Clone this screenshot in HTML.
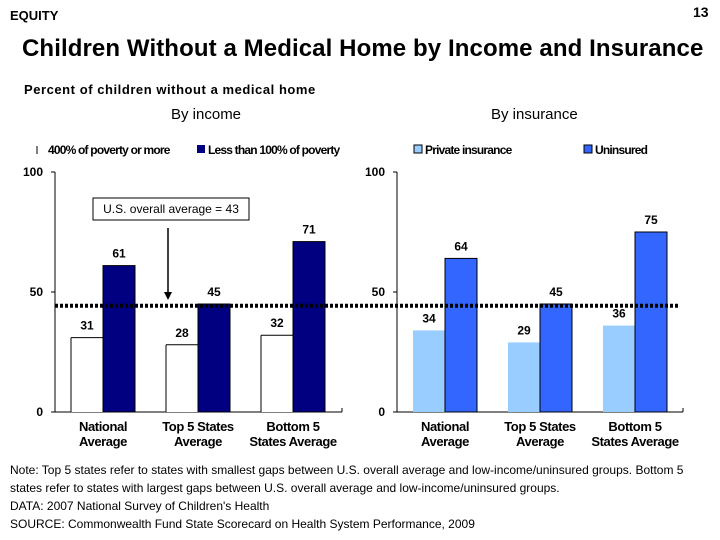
<!DOCTYPE html>
<html><head><meta charset="utf-8"><style>
body{margin:0;width:720px;height:540px;background:#fff;font-family:"Liberation Sans",Arial,sans-serif;overflow:hidden;position:relative}
.t{position:absolute;white-space:nowrap}
</style></head><body>
<div class="t" style="left:10px;top:8px;font-size:13px;font-weight:bold">EQUITY</div>
<div class="t" style="left:693px;top:4px;font-size:14px;font-weight:bold">13</div>
<div class="t" style="left:22px;top:35px;font-size:24px;font-weight:bold;letter-spacing:0.1px">Children Without a Medical Home by Income and Insurance</div>
<div class="t" style="left:24px;top:82px;font-size:13px;font-weight:bold;letter-spacing:0.55px">Percent of children without a medical home</div>
<div class="t" style="left:171px;top:106px;font-size:15px">By income</div>
<div class="t" style="left:491px;top:106px;font-size:15px">By insurance</div>
<svg id="c" width="720" height="540" style="position:absolute;left:0;top:0"></svg>
<div class="t" style="left:10px;top:461px;font-size:12px;line-height:18px">Note: Top 5 states refer to states with smallest gaps between U.S. overall average and low-income/uninsured groups. Bottom 5<br>states refer to states with largest gaps between U.S. overall average and low-income/uninsured groups.<br>DATA: 2007 National Survey of Children's Health<br>SOURCE: Commonwealth Fund State Scorecard on Health System Performance, 2009</div>
<script>
const categories=[["National","Average"],["Top 5 States","Average"],["Bottom 5","States Average"]];
const incomeHigh=[31,28,32];
const incomeLow=[61,45,71];
const insPrivate=[34,29,36];
const insUninsured=[64,45,75];
const ticks=[0,50,100];
const overallAvg=43;
const NS="http://www.w3.org/2000/svg";
const svg=document.getElementById('c');
function y(v){return 412-v*2.4;}
function mk(tag,a,txt){const e=document.createElementNS(NS,tag);for(const k in a)e.setAttribute(k,a[k]);if(txt!==undefined)e.textContent=txt;svg.appendChild(e);return e;}
function panel(ax,xEnd,s1,s2,c1,c2,prefix){
  let e=mk('line',{x1:ax,y1:172,x2:ax,y2:412,stroke:'#000'});
  
  e=mk('line',{x1:ax,y1:412,x2:xEnd,y2:412,stroke:'#000'});
  
  mk('line',{x1:xEnd,y1:408,x2:xEnd,y2:412,stroke:'#000'});
  ticks.forEach(t=>{
    mk('line',{x1:ax-4,y1:y(t),x2:ax,y2:y(t),stroke:'#000'});
    e=mk('text',{x:ax-12,y:y(t)+4,'text-anchor':'end','font-size':12,'font-weight':'bold'},t);
    
  });
  categories.forEach((c,i)=>{
    const cx=ax+48+i*95;
    e=mk('rect',{x:cx-32,y:y(s1[i]),width:32,height:s1[i]*2.4,fill:c1,stroke:'none'});
    
    if(c1==='#fff'){
      mk('line',{x1:cx-32,y1:y(s1[i]),x2:cx,y2:y(s1[i]),stroke:'#000','stroke-width':1});
      mk('line',{x1:cx-32,y1:y(s1[i]),x2:cx-32,y2:412,stroke:'#000','stroke-width':1});}
    e=mk('rect',{x:cx,y:y(s2[i]),width:32,height:s2[i]*2.4,fill:c2,stroke:'#000','stroke-width':1});
    
    e=mk('text',{x:cx-16,y:y(s1[i])-8,'text-anchor':'middle','font-size':12,'font-weight':'bold'},s1[i]);
    
    e=mk('text',{x:cx+16,y:y(s2[i])-8,'text-anchor':'middle','font-size':12,'font-weight':'bold'},s2[i]);
    
    c.forEach((l,j)=>{e=mk('text',{x:cx,y:431+j*15,'text-anchor':'middle','font-size':13,'font-weight':'bold','letter-spacing':-0.4},l);
      });
  });
}
panel(55,342,incomeHigh,incomeLow,'#fff','#000080','income');
panel(397,683,insPrivate,insUninsured,'#99ccff','#3366ff','insurance');
let e=mk('line',{x1:55,y1:y(overallAvg)-3,x2:680,y2:y(overallAvg)-3,stroke:'#000','stroke-width':4,'stroke-dasharray':'3,2'});

e=mk('rect',{x:93,y:198,width:156,height:22,fill:'#fff',stroke:'#000'});

mk('text',{x:171,y:213,'text-anchor':'middle','font-size':12},'U.S. overall average = 43');
e=mk('line',{x1:168,y1:228,x2:168,y2:294,stroke:'#000','stroke-width':1.5});

mk('path',{d:'M164,292 L172,292 L168,300 Z',fill:'#000'});
function leg(x,col,txt,name,border){
  let r=mk('rect',{x:x,y:145,width:8,height:8,fill:col,stroke:border||'none'});
  
  let t=mk('text',{x:x+11,y:154,'font-size':12,'font-weight':'bold','letter-spacing':-0.8},txt);
  
}
mk('line',{x1:37,y1:146,x2:37,y2:154,stroke:'#000'});
e=mk('text',{x:48,y:154,'font-size':12,'font-weight':'bold','letter-spacing':-0.8},'400% of poverty or more');

leg(197,'#000080','Less than 100% of poverty','legend-low-income');
leg(414,'#99ccff','Private insurance','legend-private','#000');
leg(584,'#3366ff','Uninsured','legend-uninsured','#000');
</script>
</body></html>
